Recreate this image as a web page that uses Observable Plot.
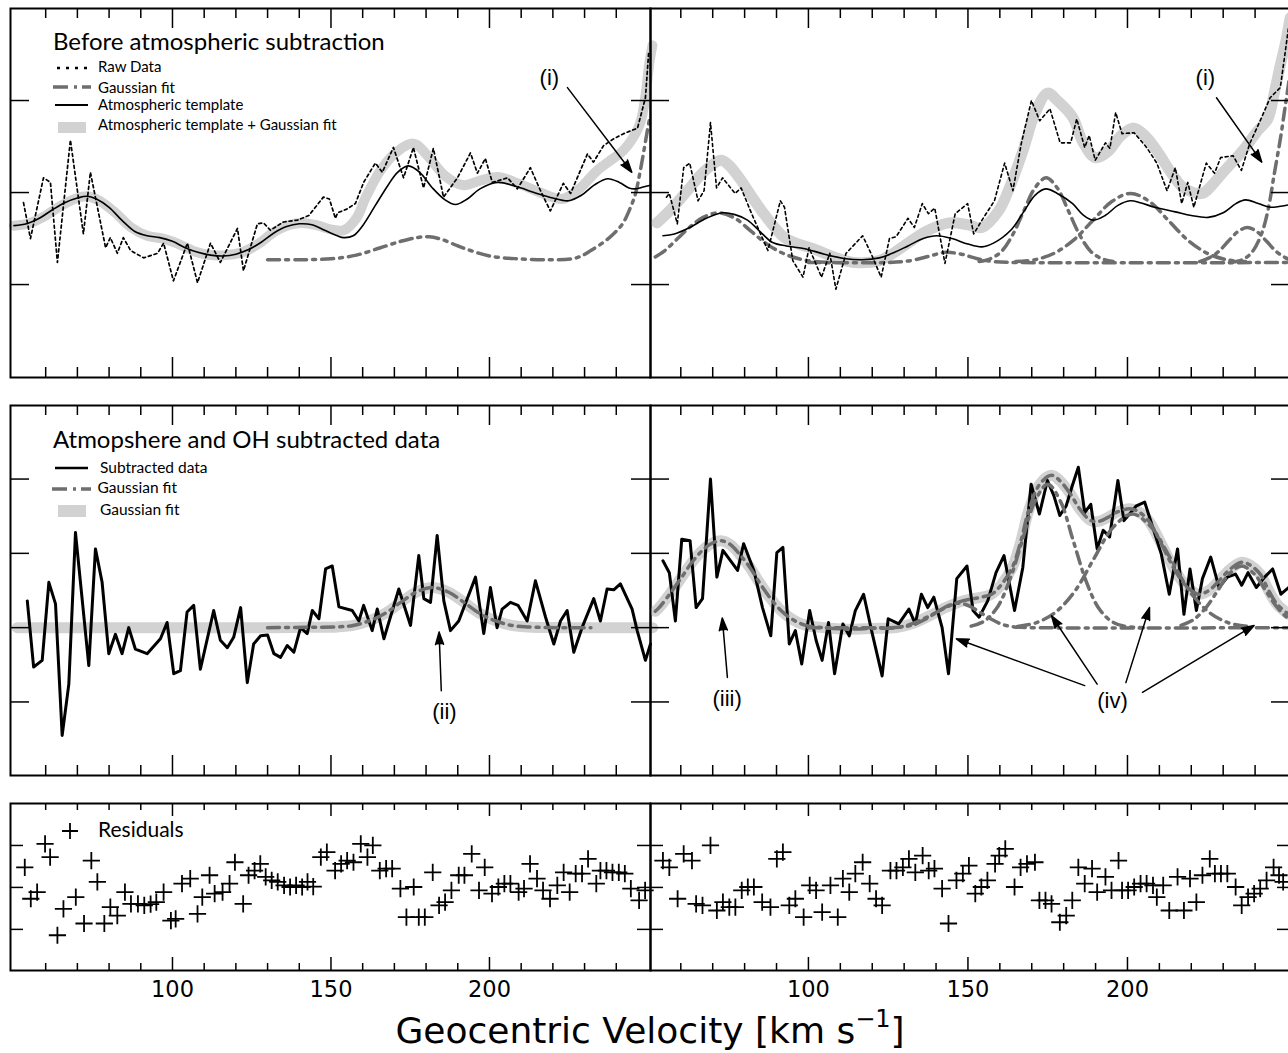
<!DOCTYPE html>
<html><head><meta charset="utf-8">
<script src="https://cdn.jsdelivr.net/npm/d3@7"></script>
<script src="https://cdn.jsdelivr.net/npm/@observablehq/plot@0.6"></script>
<style>
html,body{margin:0;padding:0;background:#fff;overflow:hidden;}
#fig{position:relative;width:1288px;height:1053px;overflow:hidden;background:#fff;}
</style></head><body><div id="fig"></div>
<script>
// ---------------- DATA (velocity km/s, arbitrary flux units) ----------------
// Row 1, left: before atmospheric subtraction
const r1L_raw = [[53.0,0.89],[55.2,0.50],[59.3,1.16],[61.5,1.11],[63.7,0.24],[67.8,1.57],[71.9,0.55],[74.1,1.22],[78.9,0.40],[80.4,0.51],[82.6,0.34],[84.5,0.51],[86.8,0.37],[90.9,0.29],[95.3,0.34],[97.2,0.45],[100.3,0.04],[104.7,0.45],[107.9,0.02],[112.0,0.45],[115.1,0.24],[120.5,0.61],[122.4,0.15],[126.8,0.66],[128.7,0.67],[130.9,0.59],[135.0,0.68],[139.4,0.70],[143.0,0.75],[147.6,0.95],[149.5,0.93],[151.4,0.72],[152.1,0.78],[155.0,0.82],[157.7,0.88],[160.3,1.11],[164.0,1.32],[166.2,1.22],[169.7,1.49],[172.9,1.16],[176.0,1.49],[179.2,1.05],[182.3,1.48],[185.5,0.95],[189.9,1.16],[194.0,1.43],[196.2,1.21],[198.7,1.37],[200.9,1.11],[205.7,1.16],[208.8,1.04],[212.9,1.27],[216.1,1.02],[219.2,0.80],[223.3,1.10],[225.6,0.99],[230.9,1.42],[232.8,1.33],[236.0,1.51],[239.0,1.58],[242.3,1.64],[246.7,1.70],[249.2,2.03],[250.2,2.51]];
const r1L_tmpl = [[50,0.64],[54,0.66],[58,0.72],[62,0.81],[66,0.89],[70,0.94],[73,0.96],[76,0.93],[80,0.84],[84,0.70],[88,0.58],[92,0.53],[96,0.51],[100,0.47],[104,0.40],[108,0.35],[112,0.32],[116,0.31],[120,0.33],[124,0.38],[128,0.46],[132,0.56],[136,0.63],[140,0.66],[144,0.65],[148,0.59],[152,0.53],[154,0.51],[157,0.53],[160,0.64],[164,0.86],[168,1.08],[171,1.22],[174.4,1.29],[178,1.22],[182,1.05],[186,0.92],[189.3,0.87],[193,0.93],[197,1.04],[202.5,1.11],[208,1.07],[215,0.99],[220,0.94],[224.9,0.91],[229,0.97],[233,1.08],[237.2,1.15],[241,1.11],[244,1.05],[246.1,1.04],[248.5,1.06],[250.8,1.08]];
const r1L_total = [[50,0.64],[55,0.67],[60,0.75],[65,0.86],[70,0.94],[73,0.96],[77,0.91],[82,0.78],[87,0.62],[92,0.53],[97,0.50],[102,0.44],[107,0.36],[112,0.32],[117,0.32],[122,0.35],[127,0.44],[132,0.57],[137,0.65],[141,0.67],[146,0.64],[150,0.60],[154,0.59],[158,0.72],[161,0.95],[165.6,1.24],[170,1.42],[175,1.53],[177,1.52],[181,1.38],[186,1.18],[191.8,1.08],[197,1.13],[202.5,1.17],[209,1.10],[216,1.00],[223,0.93],[228,1.03],[234,1.24],[239,1.37],[242.3,1.46],[245,1.58],[247.6,1.76],[249.2,2.05],[250.4,2.40],[251.4,2.60]];
const r1L_gauss = [[130,0.27],[140,0.27],[150,0.28],[158,0.32],[165.6,0.40],[172,0.47],[177,0.51],[181,0.52],[185,0.49],[190,0.42],[194,0.37],[200,0.31],[208.8,0.28],[218,0.27],[226,0.28],[229,0.31],[232,0.37],[236,0.46],[239.1,0.55],[242,0.66],[244.5,0.84],[246,0.98],[247.6,1.24],[249.8,1.67],[250.5,1.80]];

// Row 1, right
const r1R_raw = [[55.5,0.95],[56.4,0.99],[58.9,0.66],[60.9,1.27],[62.8,1.32],[65.4,0.91],[67.3,1.02],[69.3,1.76],[71.2,1.05],[73.1,1.16],[77.0,0.99],[78.9,1.05],[82.2,0.77],[87.3,0.37],[91.2,0.91],[92.5,0.84],[95.1,0.26],[98.3,0.08],[100.2,0.40],[104.1,0.08],[106.7,0.34],[108.6,-0.05],[111.8,0.34],[117.0,0.53],[119.6,0.34],[122.8,0.08],[125.4,0.50],[127.5,0.52],[131.2,0.72],[133.2,0.62],[135.7,0.88],[137.6,0.77],[139.6,0.83],[142.8,0.23],[146.0,0.77],[149.9,0.88],[151.8,0.55],[154.4,0.70],[158.3,0.91],[161.5,1.32],[164.1,1.02],[166.7,1.53],[169.9,2.00],[172.5,1.78],[175.7,1.91],[178.9,1.54],[182.2,1.54],[184.1,1.80],[186.6,1.49],[188.0,1.62],[189.9,1.35],[193.1,1.54],[194.5,1.48],[196.3,1.87],[198.3,1.64],[202.1,1.65],[206.0,1.49],[209.2,1.32],[212.4,1.02],[215.0,1.27],[217.0,0.88],[218.9,1.11],[220.8,0.84],[224.7,1.32],[227.3,1.21],[229.2,1.38],[233.1,1.40],[235.7,1.24],[238.3,1.53],[242.1,1.82],[244.7,2.03],[247.9,2.14],[249.5,2.54],[250.5,2.80]];
const r1R_tmpl = [[54.4,0.53],[58,0.55],[62.8,0.62],[68,0.72],[73.1,0.78],[77,0.76],[80.9,0.70],[85,0.57],[88.6,0.46],[93,0.42],[98.9,0.39],[105,0.33],[111.8,0.28],[117,0.27],[122.2,0.29],[127,0.35],[131.2,0.42],[136,0.50],[140.2,0.53],[145,0.50],[150,0.44],[154.4,0.41],[158,0.45],[163.4,0.59],[168,0.82],[171,0.97],[174.4,1.04],[178,0.99],[182.8,0.88],[186,0.76],[189.2,0.70],[193,0.75],[197,0.86],[200.8,0.91],[204,0.89],[208.5,0.84],[215,0.79],[220,0.75],[225.3,0.73],[230,0.78],[234,0.88],[237,0.92],[241,0.88],[244.7,0.84],[249.5,0.86],[251,0.87]];
const r1R_total = [[52.5,0.67],[57,0.82],[62.8,1.05],[67,1.22],[72.5,1.35],[75,1.30],[78.3,1.16],[82,0.97],[86.0,0.77],[92.5,0.51],[97,0.44],[101.5,0.39],[108,0.30],[114.4,0.24],[122.2,0.26],[127,0.35],[131.2,0.45],[137,0.58],[144.1,0.67],[150,0.65],[154.4,0.62],[159.6,0.80],[163,1.05],[167.3,1.46],[171,1.86],[175,2.08],[178,2.00],[182.8,1.82],[186,1.55],[189.9,1.38],[194,1.45],[198,1.62],[202.1,1.70],[206,1.60],[209.9,1.42],[214,1.20],[217.6,1.05],[223.4,0.99],[227,1.10],[230.5,1.24],[236,1.45],[240.8,1.67],[244,1.80],[246,2.08],[248,2.40],[249.5,2.62],[251,2.90]];
const r1R_gaussA = [[52,0.30],[55,0.37],[59,0.50],[63,0.63],[67,0.73],[72,0.78],[77,0.72],[82,0.58],[87,0.44],[92,0.34],[97,0.28],[102,0.25],[108,0.24]];
const r1R_gaussB = [[100,0.24],[125,0.24],[132,0.26],[138,0.31],[143,0.35],[148,0.33],[153,0.28],[158,0.25],[165,0.24],[251,0.24]];
const r1R_gaussC = [[153.5,0.25],[157,0.28],[160.5,0.36],[164,0.54],[167.5,0.80],[171,1.05],[174.5,1.16],[178,1.05],[181.5,0.80],[185,0.54],[188.5,0.36],[192,0.28],[195.5,0.25]];
const r1R_gaussD = [[165,0.25],[171,0.27],[177,0.34],[183,0.48],[189,0.69],[195,0.90],[201,0.99],[207,0.90],[213,0.69],[219,0.48],[225,0.34],[231,0.27],[237,0.25]];
const r1R_gaussE = [[222.6,0.25],[225.6,0.29],[228.6,0.36],[231.6,0.47],[234.6,0.575],[237.6,0.62],[240.6,0.575],[243.6,0.47],[246.6,0.36],[249.6,0.29],[252,0.25]];
const r1R_gaussF = [[232,0.24],[236,0.27],[239,0.35],[242,0.55],[244,0.80],[246,1.20],[248,1.60],[249.5,1.95],[251,2.30]];

// Row 2, left: atmosphere and OH subtracted
const r2L_sub = [[54.2,0.36],[56.2,-0.53],[58.9,-0.44],[61.0,0.61],[63.1,0.32],[65.2,-1.45],[67.3,-0.76],[69.4,1.28],[73.6,-0.51],[75.7,1.06],[77.8,0.61],[79.9,-0.35],[82.0,-0.09],[84.1,-0.35],[86.2,0.00],[88.3,-0.29],[92.0,-0.35],[96.2,-0.15],[98.3,0.07],[100.4,-0.62],[102.5,-0.58],[104.6,0.21],[106.7,0.30],[108.8,-0.56],[113.0,0.23],[115.1,-0.17],[117.3,-0.27],[119.3,-0.13],[121.5,0.27],[123.6,-0.74],[125.6,-0.22],[127.8,-0.11],[130.0,-0.10],[132.0,-0.35],[134.1,-0.40],[136.2,-0.24],[138.3,-0.33],[140.4,0.00],[142.5,-0.08],[144.1,0.23],[146.2,0.12],[148.3,0.79],[150.4,0.83],[152.5,0.28],[156.7,0.23],[158.8,0.09],[160.3,0.30],[163.0,-0.04],[164.6,0.25],[166.7,-0.15],[171.4,0.52],[175.1,0.03],[177.7,0.97],[179.3,0.39],[181.4,0.34],[183.5,1.24],[185.6,0.36],[187.7,-0.04],[190.3,0.09],[195.6,0.68],[198.2,-0.08],[200.3,0.54],[202.4,0.00],[204.0,0.25],[206.6,0.34],[209.0,0.30],[211.9,0.09],[214.5,0.63],[217.7,0.14],[220.3,-0.22],[222.4,0.09],[224.5,0.23],[226.6,-0.33],[229.2,0.00],[232.9,0.39],[235.0,0.09],[237.1,0.52],[239.2,0.51],[241.3,0.59],[245.0,0.25],[246.6,-0.04],[249.2,-0.44],[250.8,-0.22]];
const r2L_total = [[51,0],[130,0],[142,0.005],[152,0.01],[157,0.03],[162,0.09],[167,0.19],[172,0.34],[177,0.48],[182,0.54],[187,0.48],[192,0.34],[197,0.19],[202,0.09],[207,0.03],[212,0.01],[222,0],[251.5,0]];
const r2L_gauss = [[130,0],[142,0.005],[152,0.01],[157,0.03],[162,0.09],[167,0.19],[172,0.34],[177,0.48],[182,0.54],[187,0.48],[192,0.34],[197,0.19],[202,0.09],[207,0.03],[212,0.01],[222,0],[232,0]];

// Row 2, right
const r2R_sub = [[54.4,0.90],[56.4,0.74],[58.3,0.09],[60.3,1.19],[62.9,1.17],[64.8,0.27],[66.8,0.39],[69.3,2.00],[71.3,0.68],[73.2,1.04],[77.8,0.77],[79.7,1.13],[82.9,0.77],[85.6,0.27],[88.2,-0.11],[90.1,1.01],[92.0,1.08],[94.0,-0.22],[95.9,-0.04],[97.9,-0.49],[100.4,0.23],[102.4,-0.17],[104.3,-0.44],[106.3,0.07],[108.2,-0.62],[110.8,0.05],[112.8,-0.11],[114.7,0.23],[117.3,0.45],[119.9,-0.06],[123.1,-0.65],[125.0,0.12],[128.3,0.05],[131.5,0.25],[133.5,0.05],[135.4,0.45],[137.4,0.27],[139.3,0.41],[141.9,0.00],[143.9,-0.62],[146.5,0.66],[149.7,0.83],[151.6,0.23],[153.5,0.14],[156.2,0.36],[158.8,0.74],[161.3,0.97],[164.6,0.23],[167.2,0.81],[169.8,1.93],[172.4,1.53],[174.9,1.98],[176.9,1.78],[178.8,1.51],[180.8,1.64],[182.7,1.91],[184.6,2.16],[186.6,1.55],[188.5,1.66],[190.5,1.06],[192.4,1.31],[194.4,1.22],[197.0,1.98],[198.9,1.44],[202.8,1.64],[205.4,1.69],[208.6,1.26],[210.6,0.99],[213.1,0.45],[215.7,1.06],[217.7,0.18],[219.6,0.79],[221.6,0.23],[223.5,0.66],[226.1,0.95],[228.7,0.54],[231.3,0.68],[233.9,0.72],[235.8,0.57],[237.8,0.74],[240.4,0.54],[243.0,0.68],[245.5,0.79],[248.1,0.45],[250.5,0.54]];
const r2R_total = [[52,0.22],[53.2,0.27],[56.5,0.45],[60.3,0.68],[63.5,0.88],[66.8,1.04],[69.5,1.13],[72.6,1.17],[75.5,1.12],[78.4,0.99],[81.5,0.82],[84.9,0.59],[88,0.40],[91.4,0.23],[95,0.11],[99.2,0.03],[105,0.0],[112.1,-0.02],[120,-0.01],[127.6,0.00],[133,0.06],[138.0,0.16],[143,0.27],[148.3,0.36],[153,0.40],[157.4,0.45],[160.5,0.58],[163.9,0.81],[166.5,1.15],[169.0,1.57],[172.5,1.93],[176.2,2.05],[179,1.97],[182.1,1.80],[185,1.60],[188.5,1.44],[191,1.43],[193.7,1.48],[197,1.56],[200.8,1.60],[203.5,1.56],[206.6,1.44],[210,1.18],[214.4,0.81],[218,0.58],[222.2,0.45],[225.5,0.50],[228.7,0.63],[232,0.78],[235.8,0.88],[238.5,0.84],[241.6,0.72],[244,0.52],[246.8,0.32],[250.5,0.18]];
const r2R_gaussB = [[100,0],[126,0],[129.5,0.01],[133,0.04],[136.5,0.11],[140,0.20],[143.5,0.29],[147,0.33],[150.5,0.29],[154,0.20],[157.5,0.11],[161,0.04],[164.5,0.01],[170,0],[251,0]];
const r2R_gaussC = [[151,0.02],[155,0.085],[159,0.26],[163,0.63],[167,1.17],[171,1.70],[175,1.93],[179,1.70],[183,1.17],[187,0.63],[191,0.26],[195,0.085],[199,0.02],[205,0]];
const r2R_gaussD = [[165.5,0.017],[171.5,0.067],[177.5,0.21],[183.5,0.49],[189.5,0.93],[195.5,1.35],[201.5,1.53],[207.5,1.35],[213.5,0.93],[219.5,0.49],[225.5,0.21],[231.5,0.067],[237.5,0.017]];
const r2R_gaussE = [[216.8,0.03],[220.8,0.11],[224.8,0.28],[228.3,0.50],[231.8,0.72],[235.8,0.83],[239.8,0.72],[243.3,0.50],[246.8,0.28],[250.8,0.11],[254.8,0.03]];

// Row 3: residuals
const r3L_res = [[53.4,0.48],[55.3,-0.27],[57.3,-0.11],[59.8,1.04],[61.4,0.72],[63.7,-1.14],[65.6,-0.51],[69.5,-0.23],[72.1,-0.86],[74.4,0.64],[76.3,0.13],[78.5,-0.86],[80.4,-0.47],[82.6,-0.67],[85.0,-0.11],[86.9,-0.39],[89.1,-0.39],[91.1,-0.43],[93.1,-0.40],[94.9,-0.35],[97.2,-0.11],[99.5,-0.79],[101.0,-0.75],[103.0,0.09],[105.6,0.21],[107.9,-0.63],[109.4,-0.23],[111.7,0.29],[113.3,-0.15],[115.8,-0.11],[118.0,0.09],[119.7,0.60],[122.3,-0.39],[124.0,0.29],[125.9,0.40],[127.7,0.56],[129.4,0.25],[131.3,0.17],[133.2,0.13],[135.2,0.05],[137.1,0.01],[139.0,0.05],[140.9,0.01],[142.6,0.13],[144.4,0.02],[146.8,0.72],[148.7,0.84],[151.3,0.40],[153.2,0.56],[155.1,0.64],[157.1,0.60],[159.4,1.04],[161.5,0.72],[163.2,1.00],[165.4,0.40],[167.4,0.45],[169.3,0.45],[171.9,-0.03],[173.8,-0.71],[176.1,0.01],[177.7,-0.71],[179.6,-0.71],[182.1,0.36],[184.1,-0.43],[186.0,-0.35],[188.0,-0.07],[190.3,0.29],[192.1,0.29],[194.4,0.80],[196.7,-0.07],[198.5,0.48],[200.8,-0.15],[202.8,0.01],[204.7,0.09],[206.6,0.09],[209.2,-0.11],[210.9,-0.03],[212.8,0.56],[215.0,0.21],[216.9,-0.07],[219.1,-0.27],[221.4,0.05],[223.4,0.36],[225.3,-0.11],[227.2,0.33],[229.2,0.33],[231.1,0.68],[233.7,0.09],[235.0,0.40],[236.9,0.40],[238.8,0.36],[240.8,0.36],[242.7,0.33],[244.6,-0.03],[247.2,-0.31],[249.1,-0.07]];
const r3R_res = [[54.4,0.64],[56.4,0.48],[59.0,-0.27],[60.9,0.80],[63.5,0.64],[64.8,-0.39],[66.8,-0.43],[69.3,1.00],[71.3,-0.55],[73.2,-0.35],[75.2,-0.47],[77.1,-0.47],[79.1,-0.07],[81.0,0.01],[82.9,0.01],[85.5,-0.35],[88.1,-0.47],[90.1,0.68],[92.0,0.84],[94.0,-0.43],[95.9,-0.27],[98.5,-0.71],[100.4,0.05],[102.4,-0.07],[104.3,-0.59],[106.9,0.05],[109.2,-0.71],[110.8,0.21],[112.8,-0.11],[114.7,0.33],[117.0,0.60],[119.2,0.09],[121.2,-0.27],[123.1,-0.43],[125.7,0.40],[127.6,0.40],[129.6,0.48],[131.5,0.68],[133.5,0.36],[135.8,0.76],[137.7,0.40],[139.5,0.45],[141.9,-0.03],[143.9,-0.86],[146.4,0.17],[148.4,0.33],[150.3,0.52],[152.3,-0.15],[154.2,0.01],[156.1,0.17],[158.5,0.56],[159.8,0.76],[161.7,0.92],[164.6,0.01],[166.5,0.48],[168.5,0.56],[171.0,0.60],[172.4,-0.31],[174.3,-0.31],[176.2,-0.39],[178.8,-0.83],[180.8,-0.67],[182.7,-0.31],[184.6,0.48],[186.6,0.09],[188.9,0.45],[190.5,-0.11],[193.1,0.25],[195.0,-0.07],[197.2,0.64],[198.3,-0.07],[200.2,-0.07],[202.1,0.01],[204.1,0.09],[206.0,0.09],[208.0,0.05],[209.2,-0.23],[211.2,0.05],[213.1,-0.55],[215.7,0.25],[217.7,-0.55],[219.6,0.21],[221.6,-0.35],[223.5,0.29],[225.8,0.68],[227.4,0.33],[229.3,0.33],[231.3,0.33],[233.9,0.01],[235.8,-0.43],[237.8,-0.23],[239.7,-0.15],[241.6,-0.03],[243.6,0.17],[245.8,0.48],[247.5,0.29],[248.8,0.13]];

// Annotations (data units)
const notes1L = [{x:218.9, y:2.25, label:"(i)"}];
const arrows1L = [{x1:224.6, y1:2.14, x2:244.9, y2:1.22}];
const notes1R = [{x:224.4, y:2.25, label:"(i)"}];
const arrows1R = [{x1:227.9, y1:2.03, x2:242.1, y2:1.33}];
const notes2L = [{x:185.8, y:-1.13, label:"(ii)"}];
const arrows2L = [{x1:184.8, y1:-0.85, x2:184.1, y2:-0.06}];
const notes2R = [{x:74.5, y:-0.96, label:"(iii)"}, {x:195.3, y:-0.98, label:"(iv)"}];
const arrows2R = [{x1:74.6,y1:-0.67,x2:73.0,y2:0.13},{x1:186.6,y1:-0.78,x2:146.4,y2:-0.15},{x1:190.5,y1:-0.76,x2:176.2,y2:0.16},{x1:199.5,y1:-0.74,x2:206.9,y2:0.27},{x1:204.7,y1:-0.87,x2:239.7,y2:0.03}];

// Ticks and text
const xMinorTicks = [60,70,80,90,110,120,130,140,160,170,180,190,210,220,230,240];
const xMajorTicks = [100,150,200];
const xTickLabels = [100,150,200];
const yTicksRow1 = [0,1,2];
const yTicksRow2 = [-1,0,1,2];
const yTicksRow3 = [-1,0,1];
const panelTitles = ["Before atmospheric subtraction", "Atmopshere and OH subtracted data"];
const legendRow1 = ["Raw Data", "Gaussian fit", "Atmospheric template", "Atmospheric template + Gaussian fit"];
const legendRow2 = ["Subtracted data", "Gaussian fit", "Gaussian fit"];
const legendRow3 = ["Residuals"];
const axisTitle = {main: "Geocentric Velocity [km s", sup: "\u22121", end: "]"};

// ---------------- STYLE / LAYOUT ----------------
const ink = "#000", lightGrey = "#d2d2d2", dashGrey = "#6e6e6e";
const DASHDOT = "12,6,3,6";
const xy = {x: d => d[0], y: d => d[1]};
const cols = {
  L: {x0: 10, x1: 650, domain: [48.9, 250.8]},
  R: {x0: 650, x1: 1290, domain: [50.5, 251.1]}
};
const rows = {
  r1: {y0: 8, y1: 377, domain: [-1.01, 3.0], yticks: yTicksRow1, major: 20, minor: 10, ylen: 19},
  r2: {y0: 405, y1: 775, domain: [-1.99, 2.99], yticks: yTicksRow2, major: 20, minor: 10, ylen: 19},
  r3: {y0: 803, y1: 970, domain: [-1.98, 2.0], yticks: yTicksRow3, major: 13, minor: 7, ylen: 13}
};
const fig = document.getElementById("fig");

function panel(col, row, marks, extraBottom = 0, after = []) {
  const M = 3;
  const W = col.x1 - col.x0, H = row.y1 - row.y0;
  const tk = {stroke: ink, strokeWidth: 1.5};
  const ticks = [
    Plot.tickX(xMinorTicks, {x: d => d, insetBottom: H - row.minor, ...tk}),
    Plot.tickX(xMajorTicks, {x: d => d, insetBottom: H - row.major, ...tk}),
    Plot.tickX(xMinorTicks, {x: d => d, insetTop: H - row.minor, ...tk}),
    Plot.tickX(xMajorTicks, {x: d => d, insetTop: H - row.major, ...tk}),
    Plot.tickY(row.yticks, {y: d => d, insetRight: W - row.ylen, ...tk}),
    Plot.tickY(row.yticks, {y: d => d, insetLeft: W - row.ylen, ...tk})
  ];
  const chart = Plot.plot({
    width: W + 2 * M, height: H + 2 * M + extraBottom,
    marginLeft: M, marginRight: M, marginTop: M, marginBottom: M + extraBottom,
    x: {domain: col.domain, axis: null},
    y: {domain: row.domain, axis: null},
    style: {background: "transparent", overflow: "visible", fontFamily: "DejaVu Sans"},
    marks: [...marks, ...ticks, Plot.frame({stroke: ink, strokeWidth: 2}), ...after]
  });
  chart.style.position = "absolute";
  chart.style.left = (col.x0 - M) + "px";
  chart.style.top = (row.y0 - M) + "px";
  chart.style.maxWidth = "none";
  fig.appendChild(chart);
}

const grey = (data, w = 10) => Plot.line(data, {...xy, stroke: lightGrey, strokeWidth: w, curve: "catmull-rom"});
const dashdot = (data, w = 3.5) => Plot.line(data, {...xy, stroke: dashGrey, strokeWidth: w, strokeDasharray: DASHDOT, curve: "catmull-rom"});
const notes = (data) => Plot.text(data, {x: "x", y: "y", text: "label", fontSize: 22, fontFamily: "Liberation Sans Narrow, Liberation Sans, sans-serif", fill: ink});
const arrows = (data) => Plot.arrow(data, {x1: "x1", y1: "y1", x2: "x2", y2: "y2", stroke: ink, fill: ink, strokeWidth: 1.5, headLength: 13, headAngle: 36});

// Row 1
panel(cols.L, rows.r1, [
  grey(r1L_total),
  dashdot(r1L_gauss),
  Plot.line(r1L_raw, {...xy, stroke: ink, strokeWidth: 1.7, strokeDasharray: "3,3"}),
  Plot.line(r1L_tmpl, {...xy, stroke: ink, strokeWidth: 1.6, curve: "catmull-rom"}),
  notes(notes1L), arrows(arrows1L)
]);
panel(cols.R, rows.r1, [
  grey(r1R_total, 11),
  dashdot(r1R_gaussA), dashdot(r1R_gaussB), dashdot(r1R_gaussC), dashdot(r1R_gaussD), dashdot(r1R_gaussE), dashdot(r1R_gaussF),
  Plot.line(r1R_raw, {...xy, stroke: ink, strokeWidth: 1.6, strokeDasharray: "3,3"}),
  Plot.line(r1R_tmpl, {...xy, stroke: ink, strokeWidth: 1.6, curve: "catmull-rom"}),
  notes(notes1R), arrows(arrows1R)
]);
// Row 2
panel(cols.L, rows.r2, [
  grey(r2L_total, 11),
  Plot.line(r2L_sub, {...xy, stroke: ink, strokeWidth: 3}),
  dashdot(r2L_gauss),
  notes(notes2L), arrows(arrows2L)
]);
panel(cols.R, rows.r2, [
  grey(r2R_total, 11),
  Plot.line(r2R_sub, {...xy, stroke: ink, strokeWidth: 3}),
  dashdot(r2R_total), dashdot(r2R_gaussB), dashdot(r2R_gaussC), dashdot(r2R_gaussD), dashdot(r2R_gaussE),
  notes(notes2R), arrows(arrows2R)
]);
// Row 3 (with x tick labels)
const xLabels = Plot.axisX(xTickLabels, {anchor: "bottom", tickSize: 0, tickPadding: 11, fontSize: 22.5, fontFamily: "DejaVu Sans", label: null, tickFormat: d => String(d)});
panel(cols.L, rows.r3, [
  Plot.dot(r3L_res, {...xy, symbol: "plus", r: 5.6, stroke: ink, strokeWidth: 1.8})
], 40, [xLabels]);
panel(cols.R, rows.r3, [
  Plot.dot(r3R_res, {...xy, symbol: "plus", r: 5.6, stroke: ink, strokeWidth: 1.8})
], 40, [xLabels]);

// ---------------- LEGENDS, TITLES, AXIS TITLE (overlay) ----------------
const ov = d3.select(fig).append("svg")
  .attr("width", 1288).attr("height", 1053)
  .style("position", "absolute").style("left", "0px").style("top", "0px").style("pointer-events", "none");
const LF = "Lato, 'Open Sans', sans-serif";
ov.append("text").attr("x", 53).attr("y", 50).attr("font-family", LF).attr("font-size", 24).text(panelTitles[0]);
ov.append("text").attr("x", 53).attr("y", 448).attr("font-family", LF).attr("font-size", 24).text(panelTitles[1]);
// row 1 legend
const l1y = [72, 93, 110, 130];
legendRow1.forEach((t, i) => ov.append("text").attr("x", 98).attr("y", l1y[i]).attr("font-family", LF).attr("font-size", 15).text(t));
ov.append("line").attr("x1", 57).attr("x2", 88).attr("y1", 68).attr("y2", 68).attr("stroke", ink).attr("stroke-width", 2.6).attr("stroke-dasharray", "3,6");
ov.append("line").attr("x1", 53).attr("x2", 91).attr("y1", 87).attr("y2", 87).attr("stroke", dashGrey).attr("stroke-width", 3.5).attr("stroke-dasharray", "15,6,3,5,12");
ov.append("line").attr("x1", 55).attr("x2", 88).attr("y1", 105).attr("y2", 105).attr("stroke", ink).attr("stroke-width", 2);
ov.append("rect").attr("x", 58).attr("y", 122).attr("width", 28).attr("height", 11).attr("fill", lightGrey);
// row 2 legend
const l2 = [[100, 473], [97.5, 493], [100, 515]];
legendRow2.forEach((t, i) => ov.append("text").attr("x", l2[i][0]).attr("y", l2[i][1]).attr("font-family", LF).attr("font-size", 15.5).text(t));
ov.append("line").attr("x1", 55).attr("x2", 88).attr("y1", 468).attr("y2", 468).attr("stroke", ink).attr("stroke-width", 2.5);
ov.append("line").attr("x1", 52).attr("x2", 91).attr("y1", 489).attr("y2", 489).attr("stroke", dashGrey).attr("stroke-width", 3.5).attr("stroke-dasharray", "15,6,3,5,12");
ov.append("rect").attr("x", 58).attr("y", 505).attr("width", 28).attr("height", 12).attr("fill", lightGrey);
// row 3 legend
ov.append("path").attr("d", "M62,831H78M70,823V839").attr("stroke", ink).attr("stroke-width", 1.8);
ov.append("text").attr("x", 98).attr("y", 837).attr("font-family", LF).attr("font-size", 21).text(legendRow3[0]);
// axis title
const at = ov.append("text").attr("x", 650).attr("y", 1043).attr("text-anchor", "middle")
  .attr("font-family", "DejaVu Sans").attr("font-size", 36);
at.append("tspan").text(axisTitle.main);
at.append("tspan").attr("font-size", 24).attr("dy", -16).text(axisTitle.sup);
at.append("tspan").attr("dy", 16).text(axisTitle.end);
</script></body></html>
